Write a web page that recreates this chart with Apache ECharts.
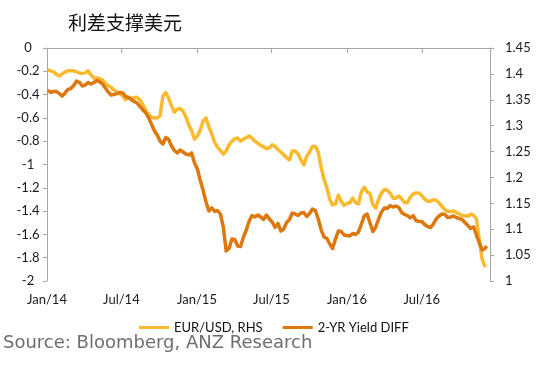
<!DOCTYPE html>
<html><head><meta charset="utf-8">
<script src="https://cdn.jsdelivr.net/npm/echarts@6/dist/echarts.min.js"></script>
<style>html,body{margin:0;padding:0;background:#fff}#c{width:542px;height:371px}</style>
</head><body><div id="c"></div>
<script>
var chartTitle = '利差支撑美元';
var sourceText = 'Source: Bloomberg, ANZ Research';
var seriesNames = ['EUR/USD, RHS', '2-YR Yield DIFF'];
var tickDates = ['2014-01-01','2014-07-01','2015-01-01','2015-07-01','2016-01-01','2016-07-01'];
var tickLabels = ['Jan/14','Jul/14','Jan/15','Jul/15','Jan/16','Jul/16'];
var leftTicks = [0,-0.2,-0.4,-0.6,-0.8,-1,-1.2,-1.4,-1.6,-1.8,-2];
var rightTicks = [1,1.05,1.1,1.15,1.2,1.25,1.3,1.35,1.4,1.45];
var dates = [
'2014-01-03','2014-01-10','2014-01-17','2014-01-24','2014-01-31','2014-02-07','2014-02-14','2014-02-21','2014-02-28','2014-03-07',
'2014-03-14','2014-03-21','2014-03-28','2014-04-04','2014-04-11','2014-04-18','2014-04-25','2014-05-02','2014-05-09','2014-05-16',
'2014-05-23','2014-05-30','2014-06-06','2014-06-13','2014-06-20','2014-06-27','2014-07-04','2014-07-11','2014-07-18','2014-07-25',
'2014-08-01','2014-08-08','2014-08-15','2014-08-22','2014-08-29','2014-09-05','2014-09-12','2014-09-19','2014-09-26','2014-10-03',
'2014-10-10','2014-10-17','2014-10-24','2014-10-31','2014-11-07','2014-11-14','2014-11-21','2014-11-28','2014-12-05','2014-12-12',
'2014-12-19','2014-12-26','2015-01-02','2015-01-09','2015-01-16','2015-01-23','2015-01-30','2015-02-06','2015-02-13','2015-02-20',
'2015-02-27','2015-03-06','2015-03-13','2015-03-20','2015-03-27','2015-04-03','2015-04-10','2015-04-17','2015-04-24','2015-05-01',
'2015-05-08','2015-05-15','2015-05-22','2015-05-29','2015-06-05','2015-06-12','2015-06-19','2015-06-26','2015-07-03','2015-07-10',
'2015-07-17','2015-07-24','2015-07-31','2015-08-07','2015-08-14','2015-08-21','2015-08-28','2015-09-04','2015-09-11','2015-09-18',
'2015-09-25','2015-10-02','2015-10-09','2015-10-16','2015-10-23','2015-10-30','2015-11-06','2015-11-13','2015-11-20','2015-11-27',
'2015-12-04','2015-12-11','2015-12-18','2015-12-25','2016-01-01','2016-01-08','2016-01-15','2016-01-22','2016-01-29','2016-02-05',
'2016-02-12','2016-02-19','2016-02-26','2016-03-04','2016-03-11','2016-03-18','2016-03-25','2016-04-01','2016-04-08','2016-04-15',
'2016-04-22','2016-04-29','2016-05-06','2016-05-13','2016-05-20','2016-05-27','2016-06-03','2016-06-10','2016-06-17','2016-06-24',
'2016-07-01','2016-07-08','2016-07-15','2016-07-22','2016-07-29','2016-08-05','2016-08-12','2016-08-19','2016-08-26','2016-09-02',
'2016-09-09','2016-09-16','2016-09-23','2016-09-30','2016-10-07','2016-10-14','2016-10-21','2016-10-28','2016-11-04','2016-11-11',
'2016-11-18','2016-11-25','2016-12-02','2016-12-06'];
var eurUsd = [
1.408,1.406,1.404,1.399,1.396,1.400,1.404,1.406,1.406,1.406,
1.404,1.402,1.401,1.402,1.406,1.398,1.392,1.392,1.391,1.388,
1.382,1.377,1.374,1.369,1.365,1.362,1.358,1.350,1.355,1.353,
1.354,1.355,1.350,1.341,1.330,1.322,1.316,1.315,1.315,1.319,
1.357,1.364,1.353,1.338,1.326,1.332,1.333,1.328,1.317,1.301,
1.290,1.274,1.280,1.292,1.309,1.315,1.297,1.284,1.268,1.258,
1.252,1.245,1.251,1.263,1.270,1.275,1.276,1.270,1.274,1.277,
1.280,1.276,1.270,1.266,1.262,1.259,1.256,1.257,1.263,1.260,
1.254,1.249,1.244,1.238,1.234,1.251,1.251,1.245,1.234,1.224,
1.241,1.249,1.260,1.260,1.249,1.220,1.197,1.180,1.158,1.147,
1.149,1.166,1.154,1.146,1.150,1.151,1.160,1.151,1.149,1.172,
1.181,1.172,1.169,1.147,1.141,1.158,1.170,1.177,1.175,1.170,
1.160,1.160,1.164,1.159,1.151,1.151,1.162,1.168,1.170,1.170,
1.165,1.158,1.154,1.154,1.157,1.156,1.151,1.144,1.138,1.134,
1.134,1.135,1.132,1.130,1.126,1.126,1.125,1.129,1.127,1.120,
1.079,1.042,1.027,null];
var yieldDiff = [
-0.361,-0.382,-0.373,-0.373,-0.391,-0.412,-0.386,-0.356,-0.348,-0.322,
-0.283,-0.296,-0.326,-0.318,-0.296,-0.309,-0.296,-0.279,-0.288,-0.309,
-0.343,-0.378,-0.403,-0.399,-0.391,-0.382,-0.386,-0.416,-0.425,-0.442,
-0.459,-0.472,-0.502,-0.532,-0.554,-0.597,-0.652,-0.708,-0.747,-0.798,
-0.824,-0.768,-0.785,-0.841,-0.880,-0.901,-0.876,-0.893,-0.910,-0.918,
-0.901,-0.987,-1.039,-1.137,-1.223,-1.322,-1.399,-1.373,-1.403,-1.395,
-1.425,-1.536,-1.743,-1.721,-1.640,-1.644,-1.700,-1.704,-1.622,-1.562,
-1.485,-1.438,-1.451,-1.434,-1.451,-1.472,-1.434,-1.468,-1.494,-1.541,
-1.506,-1.571,-1.554,-1.498,-1.472,-1.416,-1.425,-1.438,-1.416,-1.412,
-1.446,-1.421,-1.382,-1.395,-1.468,-1.558,-1.622,-1.635,-1.682,-1.721,
-1.640,-1.571,-1.575,-1.605,-1.609,-1.614,-1.592,-1.601,-1.579,-1.511,
-1.442,-1.425,-1.502,-1.575,-1.536,-1.468,-1.408,-1.373,-1.378,-1.352,
-1.365,-1.356,-1.369,-1.412,-1.429,-1.438,-1.459,-1.438,-1.481,-1.489,
-1.489,-1.515,-1.532,-1.541,-1.511,-1.468,-1.442,-1.425,-1.429,-1.455,
-1.451,-1.442,-1.455,-1.464,-1.472,-1.498,-1.524,-1.549,-1.536,-1.605,
-1.674,-1.734,-1.721,-1.700];

var xMin = '2014-01-01', xMax = '2016-12-14';
function toTs(d){ return +new Date(d + 'T00:00:00Z'); }
var tickTs = tickDates.map(toTs);
function pairs(vals){ return dates.map(function(d,i){ return [toTs(d), vals[i]]; }); }
var axisGray = '#A6A6A6';
var labelFont = { fontFamily: 'Lato', fontSize: 13, color: '#1a1a1a' };

var chart = echarts.init(document.getElementById('c'), null, {renderer: 'canvas'});
chart.setOption({
  animation: false,
  backgroundColor: '#ffffff',
  title: [
    { text: chartTitle, left: 68, top: 13, padding: 0,
      textStyle: { fontFamily: 'Noto Sans CJK SC', fontSize: 19, fontWeight: 'normal', color: '#111' } },
    { text: sourceText, left: 3, top: 334, padding: 0,
      textStyle: { fontFamily: 'DejaVu Sans', fontSize: 18, fontWeight: 'normal', color: '#6e6e6e' } }
  ],
  legend: {
    left: 134, top: 316, itemWidth: 30, itemHeight: 3, itemGap: 20, icon: 'rect',
    textStyle: { fontFamily: 'Lato', fontSize: 13, color: '#111' },
    data: seriesNames
  },
  grid: { left: 47, right: 52, top: 48, bottom: 90, containLabel: false, outerBoundsMode: 'none' },
  xAxis: [
    { type: 'value', position: 'bottom', min: toTs(xMin), max: toTs(xMax), scale: true,
      axisLine: { show: false }, axisTick: { show: false }, splitLine: { show: false },
      axisLabel: Object.assign({ margin: 12, customValues: tickTs, hideOverlap: false,
        formatter: function(v){ var i = tickTs.indexOf(v); return i >= 0 ? tickLabels[i] : ''; } }, labelFont) },
    { type: 'value', position: 'top', min: toTs(xMin), max: toTs(xMax), scale: true,
      axisLine: { show: true, onZero: false, lineStyle: { color: axisGray, width: 1 } },
      axisTick: { show: true, inside: true, length: 5, customValues: tickTs, lineStyle: { color: axisGray } },
      axisLabel: { show: false }, splitLine: { show: false } }
  ],
  yAxis: [
    { type: 'value', position: 'left', min: -2, max: 0, interval: 0.2,
      axisLine: { show: true, lineStyle: { color: axisGray } },
      axisTick: { show: true, length: 4, lineStyle: { color: axisGray } },
      splitLine: { show: false },
      axisLabel: Object.assign({ margin: 19, align: 'center',
        formatter: function(v){ return String(parseFloat(v.toFixed(1))); } }, labelFont) },
    { type: 'value', position: 'right', min: 1, max: 1.45, interval: 0.05,
      axisLine: { show: true, lineStyle: { color: axisGray } },
      axisTick: { show: true, length: 4, lineStyle: { color: axisGray } },
      splitLine: { show: false },
      axisLabel: Object.assign({ margin: 15,
        formatter: function(v){ return String(parseFloat(v.toFixed(2))); } }, labelFont) }
  ],
  series: [
    { name: seriesNames[0], type: 'line', xAxisIndex: 0, yAxisIndex: 1, data: pairs(eurUsd),
      showSymbol: false, symbol: 'none', lineStyle: { color: '#FBBA2E', width: 3.5, join: 'round' },
      itemStyle: { color: '#FBBA2E' } },
    { name: seriesNames[1], type: 'line', xAxisIndex: 0, yAxisIndex: 0, data: pairs(yieldDiff),
      showSymbol: false, symbol: 'none', lineStyle: { color: '#DD780E', width: 3.5, join: 'round' },
      itemStyle: { color: '#DD780E' } }
  ]
});
</script>
</body></html>
